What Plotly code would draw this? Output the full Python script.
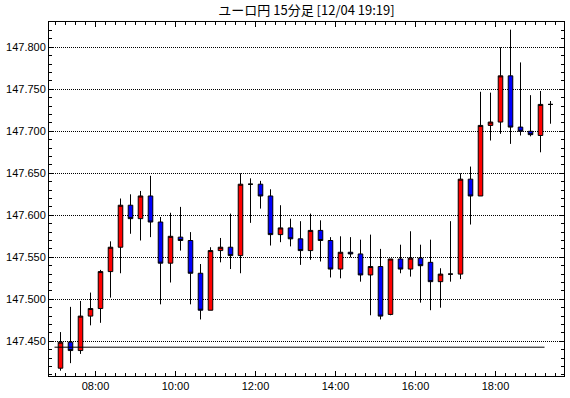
import pandas as pd
import plotly.graph_objects as go

title_text = "ユーロ円 15分足 [12/04 19:19]"
start_time = "2014-12-04 07:00"
n_candles = 50

opens = [147.418, 147.449, 147.439, 147.480, 147.489, 147.533, 147.562, 147.612, 147.596, 147.623,
         147.592, 147.543, 147.574, 147.570, 147.531, 147.487, 147.558, 147.562, 147.552, 147.637,
         147.637, 147.623, 147.577, 147.585, 147.572, 147.558, 147.582, 147.570, 147.536, 147.556,
         147.554, 147.529, 147.539, 147.482, 147.548, 147.536, 147.549, 147.544, 147.521, 147.530,
         147.530, 147.643, 147.623, 147.707, 147.711, 147.766, 147.705, 147.700, 147.695, 147.732]
highs = [147.461, 147.491, 147.498, 147.508, 147.535, 147.569, 147.620, 147.625, 147.629, 147.647,
         147.598, 147.603, 147.610, 147.580, 147.542, 147.562, 147.573, 147.602, 147.650, 147.644,
         147.641, 147.631, 147.612, 147.596, 147.593, 147.602, 147.594, 147.574, 147.575, 147.574,
         147.571, 147.577, 147.560, 147.548, 147.565, 147.581, 147.565, 147.571, 147.537, 147.593,
         147.650, 147.658, 147.747, 147.746, 147.800, 147.821, 147.782, 147.743, 147.748, 147.736]
lows = [147.415, 147.424, 147.435, 147.469, 147.472, 147.502, 147.531, 147.578, 147.570, 147.574,
        147.494, 147.520, 147.558, 147.494, 147.476, 147.487, 147.544, 147.536, 147.531, 147.591,
        147.608, 147.564, 147.568, 147.563, 147.541, 147.547, 147.545, 147.526, 147.525, 147.550,
        147.521, 147.481, 147.476, 147.481, 147.531, 147.527, 147.496, 147.487, 147.490, 147.521,
        147.524, 147.589, 147.623, 147.689, 147.697, 147.685, 147.695, 147.694, 147.675, 147.709]
closes = [147.449, 147.439, 147.480, 147.489, 147.533, 147.562, 147.612, 147.596, 147.623, 147.592,
          147.543, 147.575, 147.570, 147.531, 147.487, 147.558, 147.562, 147.552, 147.637, 147.637,
          147.623, 147.577, 147.585, 147.572, 147.558, 147.582, 147.570, 147.536, 147.556, 147.554,
          147.529, 147.539, 147.480, 147.548, 147.536, 147.549, 147.540, 147.521, 147.530, 147.530,
          147.643, 147.623, 147.707, 147.711, 147.766, 147.705, 147.700, 147.696, 147.732, 147.732]

ref_level = 147.443
ref_line_times = ["2014-12-04 06:58:30", "2014-12-04 19:13:30"]

times = pd.date_range(start_time, periods=n_candles, freq="15min")

fig = go.Figure()
fig.add_trace(go.Scatter(
    x=ref_line_times, y=[ref_level, ref_level], mode="lines",
    line=dict(color="black", width=1), showlegend=False, hoverinfo="skip"))
fig.add_trace(go.Candlestick(
    x=times, open=opens, high=highs, low=lows, close=closes,
    xperiod=900000, xperiodalignment="middle",
    increasing=dict(line=dict(color="black", width=1), fillcolor="#ff0000"),
    decreasing=dict(line=dict(color="black", width=1), fillcolor="#0000ff"),
    whiskerwidth=0, showlegend=False))

axis_font = dict(family="Liberation Sans, Arial, sans-serif", size=11, color="black")

fig.update_layout(
    width=570, height=398,
    margin=dict(l=49, r=6, t=22, b=22),
    paper_bgcolor="white", plot_bgcolor="white",
    boxgap=0.35,
    title=dict(text=title_text, x=(49 + 564) / 2 / 570, xanchor="center",
               y=1 - 10 / 398, yanchor="middle", yref="container",
               font=dict(family="Noto Sans CJK JP", size=13, color="black")),
    xaxis=dict(
        type="date", range=["2014-12-04 06:50:15", "2014-12-04 19:42:45"],
        rangeslider=dict(visible=False),
        showgrid=False, zeroline=False,
        showline=True, linecolor="black", linewidth=1, mirror="ticks",
        ticks="inside", ticklen=5, tickcolor="black", tickwidth=1,
        tick0="2014-12-04 00:00", dtick=7200000, tickformat="%H:%M",
        minor=dict(dtick=900000, ticks="inside", ticklen=3, tickcolor="black", showgrid=False),
        tickfont=axis_font),
    yaxis=dict(
        range=[147.4087, 147.8301],
        showgrid=True, gridcolor="black", griddash="1px,1px", gridwidth=1,
        zeroline=False,
        showline=True, linecolor="black", linewidth=1, mirror="ticks",
        ticks="inside", ticklen=5, tickcolor="black", tickwidth=1,
        tick0=147.45, dtick=0.05, tickformat=".3f",
        minor=dict(dtick=0.01, ticks="inside", ticklen=3, tickcolor="black", showgrid=False),
        tickfont=axis_font),
)

fig.write_html("out.html")
